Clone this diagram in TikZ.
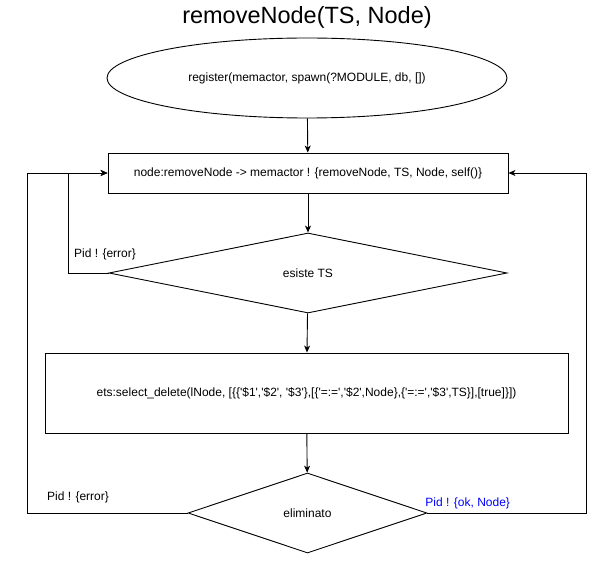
\documentclass[tikz,border=0pt]{standalone}
\usepackage{fontspec}
\newfontfamily\arial{Liberation Sans}
\usetikzlibrary{shapes.geometric,arrows.meta}

\begin{document}
\begin{tikzpicture}[x=1pt,y=-1pt,line width=0.9pt]
  \useasboundingbox (0,0) rectangle (600,572);
  \tikzstyle{every node}=[font=\arial\fontsize{12}{14}\selectfont,inner sep=0pt];
  \tikzstyle{box}=[draw,rectangle,minimum height=40pt];
  \tikzstyle{decision}=[draw,diamond,minimum height=80pt];
  \tikzstyle{arr}=[-{Stealth[length=7pt,width=6pt,inset=2pt]}];
  \path (307,17) node[font=\arial\fontsize{23.5}{28}\selectfont] (title) {removeNode(TS, Node)};
  \path (307,78) node[draw,ellipse,minimum width=400pt,minimum height=80pt] (reg)
    {register(memactor, spawn(?MODULE, db, [])};
  \path (308,173) node[box,minimum width=400pt] (send)
    {node:removeNode -> memactor ! \{removeNode, TS, Node, self()\}};
  \path (308,273) node[decision,minimum width=398pt] (esiste) {esiste TS};
  \path (306.5,393) node[box,minimum width=523pt,minimum height=80pt] (del)
    {ets:select\_delete(lNode, [\{\{'\$1','\$2', '\$3'\},[\{'=:=','\$2',Node\},\{'=:=','\$3',TS\}],[true]\}])};
  \path (307.5,513) node[decision,minimum width=239pt] (elim) {eliminato};

  \path (105,254) node (err1) {Pid ! \{error\}};
  \path (78,497) node (err2) {Pid ! \{error\}};
  \path (425,503) node[anchor=west,text=blue] (ok) {Pid ! \{ok, Node\}};

  \draw[arr] (reg) -- (send);
  \draw[arr] (send) -- (esiste);
  \draw[arr] (esiste) -- (del);
  \draw[arr] (del) -- (elim);
  \draw[arr] (esiste.west) -- (68,273) |- (send.west);
  \draw[arr] (elim.west) -- (27,513) |- (send.west);
  \draw[arr] (elim.east) -- (586,513) |- (send.east);
\end{tikzpicture}
\end{document}
